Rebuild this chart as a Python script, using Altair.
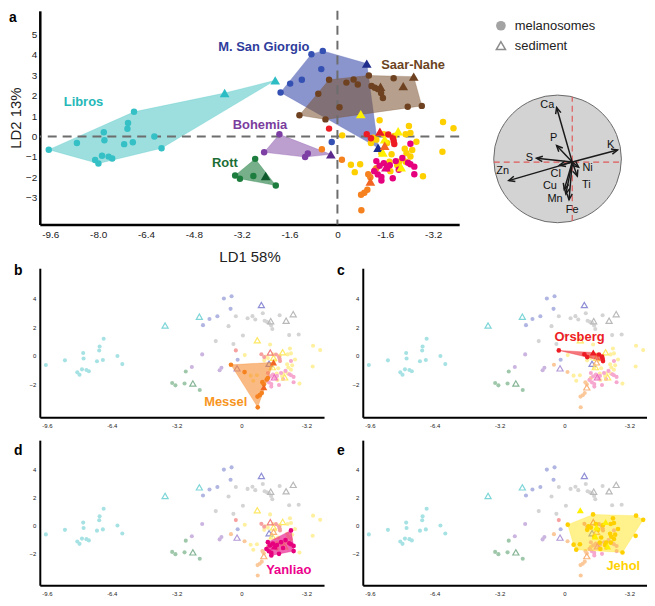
import altair as alt
import pandas as pd
import numpy as np

FONT = "Liberation Sans"

# ---------------- data ----------------
groups = ["Libros", "M. San Giorgio", "Saar-Nahe", "Bohemia", "Rott",
          "Jehol", "Messel", "Yanliao", "Orsberg"]

libros_mel_x = [-9.65, -8.71, -7.81, -7.79, -6.80, -7.00, -7.02, -7.13, -6.84, -6.12, -5.88, -8.10, -7.99, -7.87, -7.65, -7.53]
libros_mel_y = [-0.64, -0.31, 0.21, -0.18, 1.21, 0.66, 0.38, -0.37, -0.28, 0.00, -0.57, -1.15, -1.32, -0.94, -0.98, -1.07]
libros_sed_x = [-3.77, -2.08]
libros_sed_y = [2.13, 2.75]
libros_hull_x = [-9.65, -6.80, -3.77, -2.08, -5.88, -7.99]
libros_hull_y = [-0.64, 1.21, 2.13, 2.75, -0.57, -1.32]

msg_mel_x = [-0.87, -0.49, -0.54, -1.19, -1.58, -1.90, -0.19]
msg_mel_y = [4.03, 4.19, 3.30, 2.78, 2.59, 2.16, -0.27]
msg_sed_x = [0.98, 1.36]
msg_sed_y = [3.57, -0.55]
msg_hull_x = [-1.90, -0.87, -0.49, 0.98, 1.36]
msg_hull_y = [2.16, 4.03, 4.19, 3.57, -0.55]

saar_mel_x = [-0.28, -0.64, -1.27, -0.40, 0.07, 0.30, 0.54, 0.68, 1.05, 1.14, 1.25, 1.36, 1.46, 1.52, 1.88, 2.35, 2.82]
saar_mel_y = [2.78, 2.09, 1.04, 0.84, 1.43, 2.64, 2.79, 2.55, 2.99, 2.47, 2.39, 2.32, 2.13, 1.89, 2.85, 1.46, 1.50]
saar_sed_x = [2.55, 2.20, 1.44]
saar_sed_y = [2.93, 2.47, 2.44]
saar_hull_x = [-1.27, -0.28, 1.05, 2.55, 2.82, -0.40]
saar_hull_y = [1.04, 2.78, 2.99, 2.93, 1.50, 0.84]

boh_mel_x = [-1.94, -2.45, -1.08, -0.99]
boh_mel_y = [0.11, -0.77, -1.00, -0.83]
boh_sed_x = [-0.22]
boh_sed_y = [-0.87]
boh_hull_x = [-1.94, -0.22, -1.08, -2.45]
boh_hull_y = [0.11, -0.87, -1.00, -0.77]

rott_mel_x = [-2.75, -3.42, -3.26, -2.81, -2.06]
rott_mel_y = [-1.09, -1.90, -2.06, -1.93, -2.39]
rott_sed_x = [-2.40]
rott_sed_y = [-1.93]
rott_hull_x = [-2.75, -2.06, -3.26, -3.42]
rott_hull_y = [-1.09, -2.39, -2.06, -1.90]

jeh_mel_x = [1.41, 0.16, 1.19, 1.12, 1.55, 1.66, 1.47, 1.81, 1.74, 1.77, 2.06, 2.25, 2.28, 2.39, 2.44, 2.64, 2.50, 2.31, 2.28, 0.58, 0.76, 3.53, 3.88, 3.51, 2.86, 2.44, 1.90, 1.30, 2.00, 0.45]
jeh_mel_y = [0.80, 0.06, -0.05, -0.31, 0.11, -0.31, -0.81, -0.86, -1.23, -1.69, -1.23, -0.59, 0.11, 0.52, 0.18, -0.25, -0.66, -0.81, -1.23, -1.74, -1.35, 0.71, 0.41, -0.74, -1.94, -0.97, 0.03, -0.15, -1.40, -1.38]
jeh_sed_x = [0.78, 2.03, 1.58, 1.52, 2.13]
jeh_sed_y = [1.10, 0.26, -0.13, -0.78, -1.50]
jeh_hull_x = [0.16, 1.41, 3.53, 3.88, 2.86, 0.58, 0.45]
jeh_hull_y = [0.06, 0.80, 0.71, 0.41, -1.94, -1.74, -1.38]

mes_mel_x = [-0.52, 0.15, 1.03, 1.10, 1.25, 1.30, 1.00, 0.90, 0.79, 0.80]
mes_mel_y = [-0.62, -1.13, -1.84, -1.99, -1.65, -1.55, -2.60, -2.75, -2.85, -3.60]
mes_sed_x = [1.58, 1.10]
mes_sed_y = [-0.45, -2.20]
mes_hull_x = [-0.52, 1.58, 0.80]
mes_hull_y = [-0.62, -0.45, -3.60]

yan_mel_x = [2.44, 2.17, 2.44, 2.57, 2.57, 1.85, 1.47, 1.47, 1.23, 1.30, 1.41, 1.55, 1.66, 2.36, 2.05, 1.75, 1.95, 1.35]
yan_mel_y = [-0.35, -1.05, -1.35, -1.47, -1.84, -2.04, -1.97, -2.15, -1.69, -1.20, -1.43, -1.30, -1.55, -1.28, -1.62, -1.40, -1.20, -1.85]
yan_sed_x = [1.62]
yan_sed_y = [-1.50]
yan_hull_x = [1.30, 2.44, 2.57, 2.57, 1.47, 1.23]
yan_hull_y = [-1.20, -0.35, -1.47, -1.84, -2.15, -1.69]

ors_mel_x = [-0.28, 0.98, 1.12, 1.70, 1.85, 1.88, 1.90]
ors_mel_y = [0.39, 0.12, -0.08, 0.10, -0.05, -0.20, -0.36]
ors_sed_x = [1.42]
ors_sed_y = [0.24]
ors_hull_x = [-0.28, 1.42, 1.70, 1.88, 1.90]
ors_hull_y = [0.39, 0.24, 0.10, -0.05, -0.36]

# label anchor positions (data units)
label_a_names = ["Libros", "M. San Giorgio", "Saar-Nahe", "Bohemia", "Rott"]
label_a_x = [-8.49, -2.46, 2.53, -2.59, -3.76]
label_a_y = [1.70, 4.36, 3.50, 0.58, -1.27]
small_names = ["Messel", "Orsberg", "Yanliao", "Jehol"]
small_letters = ["b", "c", "d", "e"]
small_label_x = [-0.78, 0.74, 2.33, 2.90]
small_label_y = [-3.20, 1.30, -3.20, -2.94]

x_ticks_a = [-9.6, -8.0, -6.4, -4.8, -3.2, -1.6, 0, 1.6, 3.2]
y_ticks_a = [-3, -2, -1, 0, 1, 2, 3, 4, 5]
x_ticks_s = [-9.6, -6.4, -3.2, 0, 3.2]
y_ticks_s = [-2, 0, 2, 4]

# biplot loadings
elements = ["Ca", "P", "K", "S", "Zn", "Cl", "Ni", "Ti", "Cu", "Mn", "Fe"]
load_x = [-0.245, -0.245, 0.71, -0.56, -0.995, -0.20, 0.10, 0.08, -0.125, -0.10, -0.05]
load_y = [0.855, 0.26, 0.19, 0.06, -0.29, -0.05, -0.08, -0.22, -0.43, -0.50, -0.59]
elem_label_x = [-0.16, -0.06, 0.83, -0.44, -0.86, -0.03, 0.47, 0.45, -0.12, -0.04, 0.23]
elem_label_y = [0.84, 0.33, 0.22, 0.02, -0.19, -0.23, -0.14, -0.41, -0.43, -0.63, -0.80]
biplot_origin = (0.23, -0.05)

legend_labels = ["melanosomes", "sediment"]

# ---------------- styles ----------------
mel_colors = {"Libros": "#35c0c6", "M. San Giorgio": "#3450b2", "Saar-Nahe": "#6e4220",
              "Bohemia": "#7d3fa3", "Rott": "#1d7d3e", "Jehol": "#ffd000",
              "Messel": "#f5821f", "Yanliao": "#e6007e", "Orsberg": "#ed1c24"}
sed_colors = {"Libros": "#2bbcc4", "M. San Giorgio": "#1f2d8c", "Saar-Nahe": "#6e4220",
              "Bohemia": "#5b2a8c", "Rott": "#0e5a2c", "Jehol": "#fff000",
              "Messel": "#f26522", "Yanliao": "#e6007e", "Orsberg": "#ed1c24"}
label_colors = {"Libros": "#25b8b8", "M. San Giorgio": "#2e3d9c", "Saar-Nahe": "#6b4423",
                "Bohemia": "#7a3d9e", "Rott": "#1b6e36", "Jehol": "#ffd200",
                "Messel": "#f7941d", "Yanliao": "#ec008c", "Orsberg": "#ed1c24"}
faded_mel = {"Libros": "#a6e2e4", "M. San Giorgio": "#b0b5e2", "Saar-Nahe": "#d4d4d4",
             "Bohemia": "#cbb5e0", "Rott": "#9fc8ab", "Jehol": "#fff0a0",
             "Messel": "#fbc89a", "Yanliao": "#f6a8cf", "Orsberg": "#f7a0a0"}
faded_sed = {"Libros": "#7fd6d8", "M. San Giorgio": "#8f8fd6", "Saar-Nahe": "#b9b9b9",
             "Bohemia": "#b49bd8", "Rott": "#86b596", "Jehol": "#ffe866",
             "Messel": "#f9b27a", "Yanliao": "#ee6fc0", "Orsberg": "#f28080"}
hull_style = {"Libros": ("#3cc0c0", 0.5), "M. San Giorgio": ("#5a68b8", 0.7),
              "Saar-Nahe": ("#7a5230", 0.55), "Bohemia": ("#7b3fa0", 0.5),
              "Rott": ("#1b7a3c", 0.6), "Messel": ("#f5821f", 0.55),
              "Orsberg": ("#ed1c24", 0.6), "Yanliao": ("#e6007e", 0.6),
              "Jehol": ("#ffe000", 0.45)}

mel_data = {"Libros": (libros_mel_x, libros_mel_y), "M. San Giorgio": (msg_mel_x, msg_mel_y),
            "Saar-Nahe": (saar_mel_x, saar_mel_y), "Bohemia": (boh_mel_x, boh_mel_y),
            "Rott": (rott_mel_x, rott_mel_y), "Jehol": (jeh_mel_x, jeh_mel_y),
            "Messel": (mes_mel_x, mes_mel_y), "Yanliao": (yan_mel_x, yan_mel_y),
            "Orsberg": (ors_mel_x, ors_mel_y)}
sed_data = {"Libros": (libros_sed_x, libros_sed_y), "M. San Giorgio": (msg_sed_x, msg_sed_y),
            "Saar-Nahe": (saar_sed_x, saar_sed_y), "Bohemia": (boh_sed_x, boh_sed_y),
            "Rott": (rott_sed_x, rott_sed_y), "Jehol": (jeh_sed_x, jeh_sed_y),
            "Messel": (mes_sed_x, mes_sed_y), "Yanliao": (yan_sed_x, yan_sed_y),
            "Orsberg": (ors_sed_x, ors_sed_y)}
hull_data = {"Libros": (libros_hull_x, libros_hull_y), "M. San Giorgio": (msg_hull_x, msg_hull_y),
             "Saar-Nahe": (saar_hull_x, saar_hull_y), "Bohemia": (boh_hull_x, boh_hull_y),
             "Rott": (rott_hull_x, rott_hull_y), "Jehol": (jeh_hull_x, jeh_hull_y),
             "Messel": (mes_hull_x, mes_hull_y), "Yanliao": (yan_hull_x, yan_hull_y),
             "Orsberg": (ors_hull_x, ors_hull_y)}


def frame(source, names):
    parts = []
    for g in names:
        xs, ys = source[g]
        parts.append(pd.DataFrame({"group": g, "x": xs, "y": ys}))
    return pd.concat(parts, ignore_index=True)


xsc = alt.Scale(domain=[-9.95, 4.07], nice=False, zero=False)
ysc = alt.Scale(domain=[-4.3, 6.15], nice=False, zero=False)
label_expr = "datum.value == 0 ? '0' : '-' + format(abs(datum.value), '.1f')"

common_axis = dict(ticks=False, grid=False, domainColor="#000000", labelColor="#222222",
                   titleColor="#222222", labelFont=FONT, titleFont=FONT, labelOverlap=False,
                   labelFlush=False, titleFontWeight="normal")

ax_x_a = alt.Axis(values=x_ticks_a, labelExpr=label_expr, title="LD1 58%", titleFontSize=15,
                  titlePadding=10, labelFontSize=10, labelPadding=5, domainWidth=2.5, **common_axis)
ax_y_a = alt.Axis(values=y_ticks_a, title="LD2 13%", titleFontSize=15, titlePadding=2,
                  labelFontSize=10, labelPadding=3, domainWidth=2.5, **common_axis)
ax_x_s = alt.Axis(values=x_ticks_s, labelExpr=label_expr, title=None, labelFontSize=6,
                  labelPadding=5, domainWidth=2, **common_axis)
ax_y_s = alt.Axis(values=y_ticks_s, title=None, labelFontSize=6, labelPadding=4,
                  domainWidth=2, **common_axis)


def XY(ax, ay):
    return (alt.X("x:Q", scale=xsc, axis=ax), alt.Y("y:Q", scale=ysc, axis=ay))


def hull_layer(g, X, Y):
    xs, ys = hull_data[g]
    c, op = hull_style[g]
    df = pd.DataFrame({"x": xs, "y": ys, "i": list(range(len(xs)))})
    return alt.Chart(df).mark_line(interpolate="linear-closed", fill=c, fillOpacity=op,
                                   stroke=c, strokeOpacity=op, strokeWidth=0.5).encode(
        x=X, y=Y, order=alt.Order("i:Q"))


def cscale(names, cmap):
    return alt.Scale(domain=names, range=[cmap[g] for g in names])


def letter_layer(letter, dx, dy):
    return alt.Chart(pd.DataFrame({"t": [letter]})).mark_text(
        font=FONT, fontSize=14, fontWeight="bold", align="left", baseline="top",
        color="#000000").encode(text="t:N", x=alt.value(dx), y=alt.value(dy))


def name_layer(name, lx, ly, X, Y):
    return alt.Chart(pd.DataFrame({"x": [lx], "y": [ly], "t": [name]})).mark_text(
        font=FONT, fontSize=13, fontWeight="bold", color=label_colors[name]).encode(
        x=X, y=Y, text="t:N")


# ---------------- panel a ----------------
X, Y = XY(ax_x_a, ax_y_a)
layers = [hull_layer(g, X, Y) for g in ["Libros", "M. San Giorgio", "Saar-Nahe", "Bohemia", "Rott"]]
layers.append(alt.Chart(pd.DataFrame({"y": [0]})).mark_rule(
    color="#6d6d6d", strokeDash=[9, 6], strokeWidth=2).encode(y=Y))
layers.append(alt.Chart(pd.DataFrame({"x": [0]})).mark_rule(
    color="#6d6d6d", strokeDash=[9, 6], strokeWidth=2).encode(x=X))
layers.append(alt.Chart(frame(mel_data, groups)).mark_circle(size=42, opacity=1).encode(
    x=X, y=Y, color=alt.Color("group:N", scale=cscale(groups, mel_colors), legend=None)))
layers.append(alt.Chart(frame(sed_data, groups)).mark_point(
    shape="triangle-up", filled=True, size=95, opacity=1).encode(
    x=X, y=Y, color=alt.Color("group:N", scale=cscale(groups, sed_colors), legend=None)))
for n, lx, ly in zip(label_a_names, label_a_x, label_a_y):
    layers.append(name_layer(n, lx, ly, X, Y))
layers.append(letter_layer("a", -31, 0))
panel_a = alt.layer(*layers).properties(width=422, height=215).resolve_scale(color="independent")


# ---------------- small panels ----------------
def small_panel(hl, letter, lx, ly, letter_dy):
    X, Y = XY(ax_x_s, ax_y_s)
    others = [g for g in groups if g != hl]
    lays = [
        alt.Chart(frame(mel_data, others)).mark_circle(size=17, opacity=1).encode(
            x=X, y=Y, color=alt.Color("group:N", scale=cscale(others, faded_mel), legend=None)),
        alt.Chart(frame(sed_data, others)).mark_point(
            shape="triangle-up", filled=False, size=38, strokeWidth=1.2, opacity=1).encode(
            x=X, y=Y, color=alt.Color("group:N", scale=cscale(others, faded_sed), legend=None)),
        hull_layer(hl, X, Y),
        alt.Chart(frame(mel_data, [hl])).mark_circle(size=22, opacity=1, color=mel_colors[hl]).encode(x=X, y=Y),
        alt.Chart(frame(sed_data, [hl])).mark_point(
            shape="triangle-up", filled=True, size=50, opacity=1, color=sed_colors[hl]).encode(x=X, y=Y),
        name_layer(hl, lx, ly, X, Y),
        letter_layer(letter, -26, letter_dy),
    ]
    return alt.layer(*lays).properties(width=286, height=150).resolve_scale(color="independent")


letter_dys = [-4, -4, 4, 4]
smalls = [small_panel(n, l, lx, ly, dy) for n, l, lx, ly, dy in
          zip(small_names, small_letters, small_label_x, small_label_y, letter_dys)]
smalls[2] = smalls[2].properties(height=146)
smalls[3] = smalls[3].properties(height=146)

# ---------------- biplot ----------------
BW = 140
bdom = 1.09
px_per_unit = BW / (2 * bdom)
bsc = alt.Scale(domain=[-bdom, bdom], nice=False, zero=False)
BX = alt.X("x:Q", scale=bsc, axis=None)
BY = alt.Y("y:Q", scale=bsc, axis=None)
ox, oy = biplot_origin
circle_r = 1.0

arrows = pd.DataFrame({"el": elements,
                       "x": ox, "y": oy,
                       "x2": [ox + v for v in load_x], "y2": [oy + v for v in load_y]})
heads = pd.DataFrame({"x": arrows["x2"], "y": arrows["y2"],
                      "angle": [(np.degrees(np.arctan2(a, b)) + 360) % 360 for a, b in zip(load_x, load_y)]})
elabels = pd.DataFrame({"x": elem_label_x, "y": elem_label_y, "t": elements})

hv = float(np.sqrt(circle_r ** 2 - ox ** 2))
hh = float(np.sqrt(circle_r ** 2 - oy ** 2))

biplot = alt.layer(
    alt.Chart(pd.DataFrame({"x": [0.0], "y": [0.0]})).mark_circle(
        size=(2 * circle_r * px_per_unit) ** 2, color="#d3d3d3", stroke="#6a6a6a",
        strokeWidth=1, opacity=1).encode(x=BX, y=BY),
    alt.Chart(pd.DataFrame({"x": [ox], "y": [-hv], "y2": [hv]})).mark_rule(
        color="#e05a5a", strokeDash=[6, 4], strokeWidth=1.2).encode(x=BX, y=BY, y2="y2:Q"),
    alt.Chart(pd.DataFrame({"x": [-hh], "x2": [hh], "y": [oy]})).mark_rule(
        color="#e05a5a", strokeDash=[6, 4], strokeWidth=1.2).encode(x=BX, x2="x2:Q", y=BY),
    alt.Chart(arrows).mark_rule(color="#1a1a1a", strokeWidth=1.5).encode(
        x=BX, y=BY, x2="x2:Q", y2="y2:Q"),
    alt.Chart(heads).mark_point(shape="M-0.45,1L0,0L0.45,1", filled=False, size=150,
                                strokeWidth=1.5, color="#1a1a1a", opacity=1).encode(
        x=BX, y=BY, angle=alt.Angle("angle:Q", scale=None)),
    alt.Chart(elabels).mark_text(font=FONT, fontSize=11, color="#111111").encode(
        x=BX, y=BY, text="t:N"),
).properties(width=BW, height=BW)

# ---------------- legend ----------------
leg_df = pd.DataFrame({"t": legend_labels})
LY = alt.Y("t:N", axis=None, scale=alt.Scale(domain=legend_labels, padding=0.75))
legend = alt.layer(
    alt.Chart(leg_df).transform_filter(alt.datum.t == legend_labels[0]).mark_circle(
        size=95, color="#a3a3a3", opacity=1).encode(x=alt.value(13), y=LY),
    alt.Chart(leg_df).transform_filter(alt.datum.t == legend_labels[1]).mark_point(
        shape="triangle-up", filled=False, size=85, strokeWidth=1.5, color="#8c8c8c",
        opacity=1).encode(x=alt.value(13), y=LY),
    alt.Chart(leg_df).mark_text(font=FONT, fontSize=13, align="left", baseline="middle",
                                color="#222222").encode(x=alt.value(27), y=LY, text="t:N"),
).properties(width=BW, height=50)

right_col = alt.vconcat(legend, biplot, spacing=29)
row1 = alt.hconcat(panel_a, right_col, spacing=28).resolve_scale(color="independent")
row2 = alt.hconcat(smalls[0], smalls[1], spacing=13).resolve_scale(color="independent")
row3 = alt.hconcat(smalls[2], smalls[3], spacing=13).resolve_scale(color="independent")
bottom = alt.vconcat(row2, row3, spacing=12).resolve_scale(color="independent")
chart = alt.vconcat(row1, bottom, spacing=0).resolve_scale(color="independent").properties(
    padding=0, background="white").configure_view(stroke="transparent", strokeWidth=0)

chart.save("out.html", embed_options={"renderer": "svg", "actions": False})
